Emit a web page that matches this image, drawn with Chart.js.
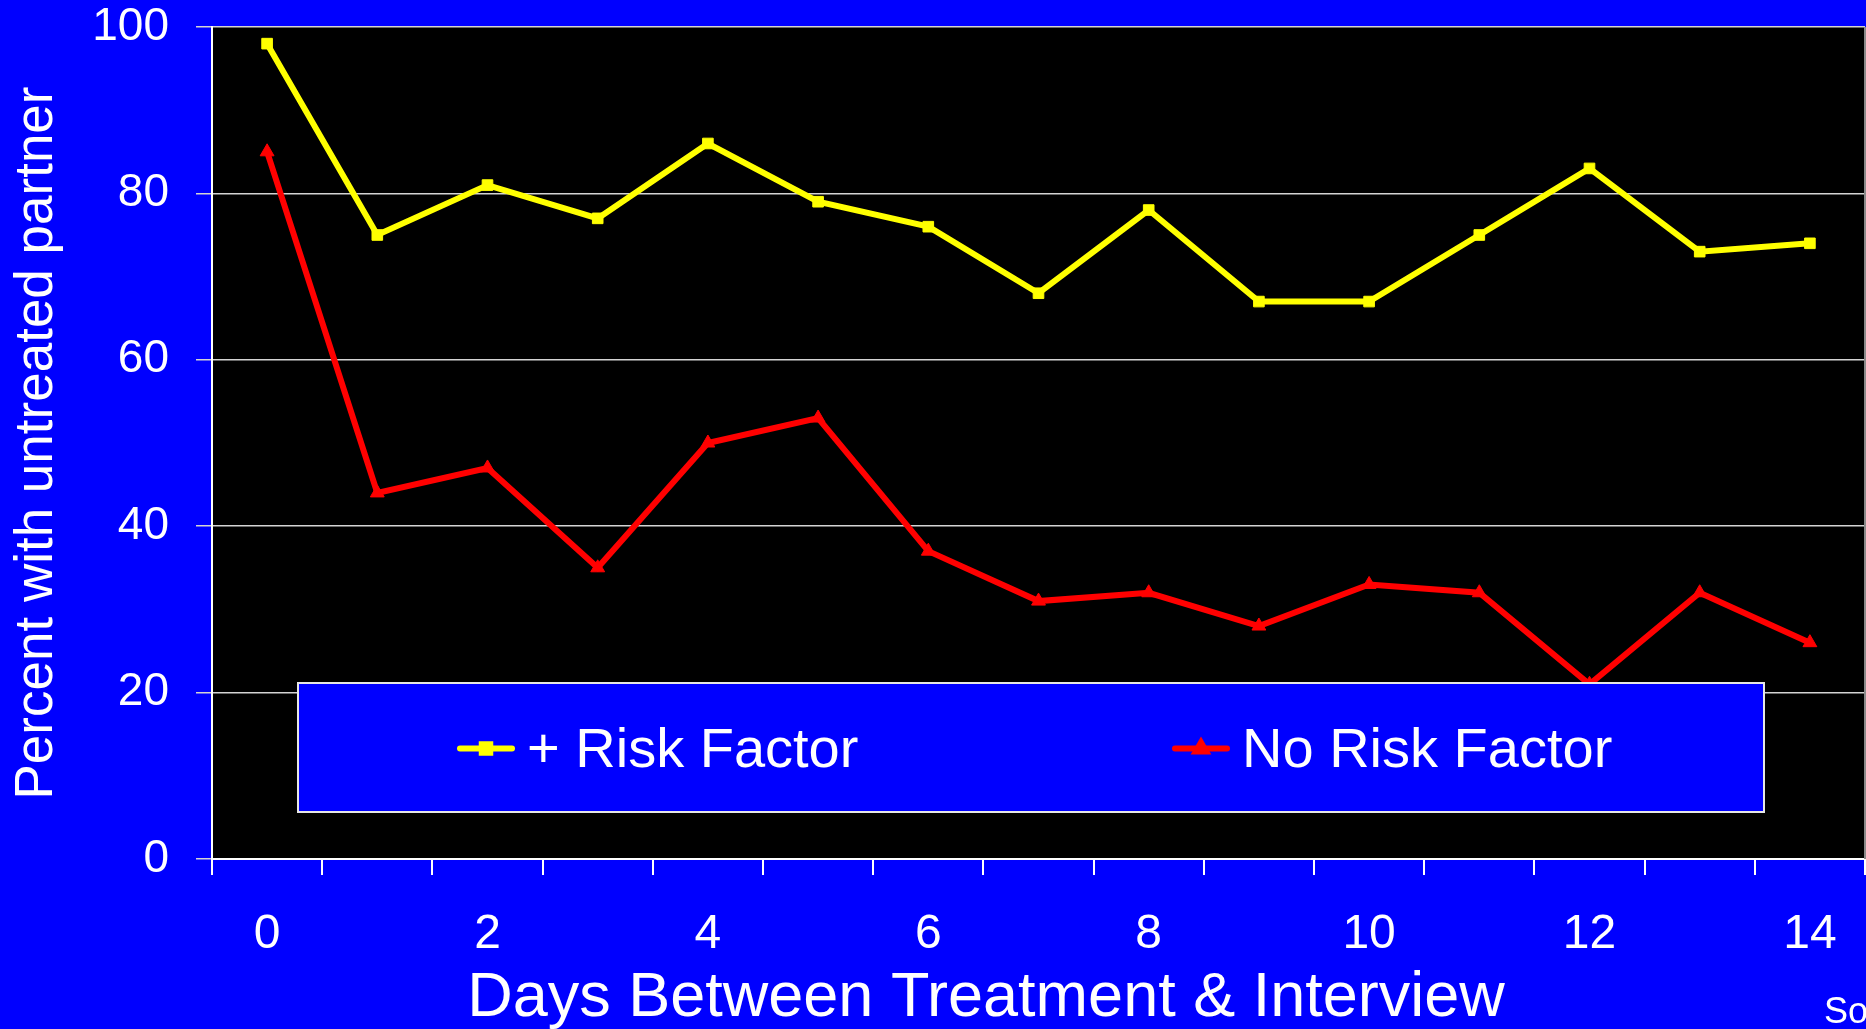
<!DOCTYPE html>
<html>
<head>
<meta charset="utf-8">
<script src="https://cdn.jsdelivr.net/npm/chart.js@4.4.1/dist/chart.umd.min.js"></script>
<style>
  html, body { margin: 0; padding: 0; background: #0000ff; overflow: hidden; }
  canvas { display: block; }
</style>
</head>
<body>
<canvas id="chart" width="1866" height="1029"></canvas>
<script>
// Days between treatment and interview (one category per day)
const days = ['0', '1', '2', '3', '4', '5', '6', '7', '8', '9', '10', '11', '12', '13', '14'];
// Only every second day is labelled on the axis
const xTickLabels = ['0', '2', '4', '6', '8', '10', '12', '14'];
const yTickValues = [0, 20, 40, 60, 80, 100];

// Percent with untreated partner
const withRiskFactor = [98, 75, 81, 77, 86, 79, 76, 68, 78, 67, 67, 75, 83, 73, 74];
const noRiskFactor   = [85, 44, 47, 35, 50, 53, 37, 31, 32, 28, 33, 32, 21, 32, 26];

const seriesNames = ['+ Risk Factor', 'No Risk Factor'];
const xTitle = 'Days Between Treatment & Interview';
const yTitle = 'Percent with untreated partner';
const sourceNote = 'Source:';

const FONT = "'Liberation Sans', Arial, Helvetica, sans-serif";
const BLUE = '#0000ff';
const YELLOW = '#ffff00';
const RED = '#ff0000';
const GRID = '#d4d4d4';

// Fixed axis band sizes around the plotting area
const Y_AXIS_WIDTH = 212;
const X_AXIS_HEIGHT = 170;

// Blue page background with a black plotting area and a grey right edge
const backdrop = {
  id: 'backdrop',
  beforeDraw(chart) {
    const { ctx, chartArea: a, width, height } = chart;
    ctx.save();
    ctx.fillStyle = BLUE;
    ctx.fillRect(0, 0, width, height);
    ctx.fillStyle = '#000000';
    ctx.fillRect(a.left, a.top, a.right - a.left, a.bottom - a.top);
    ctx.restore();
  },
  beforeDatasetsDraw(chart) {
    const { ctx, chartArea: a } = chart;
    ctx.save();
    ctx.strokeStyle = '#8a8a8a';
    ctx.lineWidth = 2;
    ctx.beginPath();
    ctx.moveTo(a.right, a.top);
    ctx.lineTo(a.right, a.bottom);
    ctx.stroke();
    ctx.restore();
  }
};

// Boxed legend over the lower part of the plot, the x-axis title and the source note
const boxedLegend = {
  id: 'boxedLegend',
  afterDatasetsDraw(chart) {
    const { ctx, chartArea: a } = chart;
    const box = { left: a.left + 86, top: 683, right: a.left + 1552, bottom: 812 };
    const cy = (box.top + box.bottom) / 2 + 1;
    ctx.save();
    ctx.fillStyle = BLUE;
    ctx.fillRect(box.left, box.top, box.right - box.left, box.bottom - box.top);
    ctx.strokeStyle = '#e6e6e6';
    ctx.lineWidth = 2;
    ctx.strokeRect(box.left, box.top, box.right - box.left, box.bottom - box.top);

    const items = [
      { ds: chart.data.datasets[0], x0: a.left + 248 },
      { ds: chart.data.datasets[1], x0: a.left + 963 }
    ];
    ctx.font = `56px ${FONT}`;
    ctx.textBaseline = 'middle';
    ctx.textAlign = 'left';
    items.forEach(({ ds, x0 }) => {
      const x1 = x0 + 52;
      ctx.strokeStyle = ds.borderColor;
      ctx.lineWidth = 6;
      ctx.lineCap = 'round';
      ctx.beginPath();
      ctx.moveTo(x0, cy);
      ctx.lineTo(x1, cy);
      ctx.stroke();
      ctx.fillStyle = ds.borderColor;
      ctx.strokeStyle = ds.borderColor;
      Chart.helpers.drawPoint(ctx, { pointStyle: ds.pointStyle, radius: 6, borderWidth: 1, rotation: 0 }, (x0 + x1) / 2, cy);
      ctx.fillStyle = '#ffffff';
      ctx.fillText(ds.label, x1 + 15, cy + 3);
    });
    ctx.restore();
  },
  afterDraw(chart) {
    const { ctx, chartArea: a } = chart;
    ctx.save();
    ctx.fillStyle = '#ffffff';
    // x-axis title, set slightly left of the axis centre
    ctx.font = `63px ${FONT}`;
    ctx.textBaseline = 'middle';
    ctx.textAlign = 'center';
    ctx.fillText(xTitle, a.left + 774, 999);
    // source note running off the right edge
    ctx.font = `36px ${FONT}`;
    ctx.textBaseline = 'alphabetic';
    ctx.textAlign = 'left';
    ctx.fillText(sourceNote, 1824, 1023);
    ctx.restore();
  }
};

new Chart(document.getElementById('chart'), {
  type: 'line',
  data: {
    labels: days,
    datasets: [
      {
        label: seriesNames[0],
        data: withRiskFactor,
        borderColor: YELLOW,
        backgroundColor: YELLOW,
        borderWidth: 6,
        pointStyle: 'rect',
        pointRadius: 7.5,
        pointBackgroundColor: YELLOW,
        pointBorderColor: YELLOW,
        pointBorderWidth: 1,
        tension: 0
      },
      {
        label: seriesNames[1],
        data: noRiskFactor,
        borderColor: RED,
        backgroundColor: RED,
        borderWidth: 6,
        pointStyle: 'triangle',
        pointRadius: 8,
        pointBackgroundColor: RED,
        pointBorderColor: RED,
        pointBorderWidth: 1,
        tension: 0
      }
    ]
  },
  options: {
    responsive: false,
    animation: false,
    devicePixelRatio: 1,
    layout: { autoPadding: false, padding: { left: 0, right: 1, top: 27, bottom: 0 } },
    plugins: {
      legend: { display: false },
      tooltip: { enabled: false }
    },
    scales: {
      x: {
        type: 'category',
        offset: true,
        afterFit(scale) {
          scale.height = X_AXIS_HEIGHT;
          scale.paddingLeft = 0;
          scale.paddingRight = 0;
        },
        grid: {
          offset: true,
          drawOnChartArea: false,
          drawTicks: true,
          tickLength: 16,
          color: '#ffffff',
          lineWidth: 2
        },
        border: { display: true, color: '#ffffff', width: 2 },
        ticks: {
          autoSkip: false,
          maxRotation: 0,
          padding: 31,
          color: '#ffffff',
          font: { family: FONT, size: 48 },
          callback(value, index) {
            const lab = days[index];
            return xTickLabels.includes(lab) ? lab : '';
          }
        },
        title: { display: false, text: xTitle }
      },
      y: {
        min: 0,
        max: 100,
        afterBuildTicks(scale) {
          scale.ticks = yTickValues.map(v => ({ value: v }));
        },
        afterFit(scale) {
          scale.width = Y_AXIS_WIDTH;
          scale.paddingTop = 0;
          scale.paddingBottom = 0;
        },
        grid: {
          drawOnChartArea: true,
          drawTicks: true,
          tickLength: 16,
          color: GRID,
          lineWidth: 1.5
        },
        border: { display: true, color: '#ffffff', width: 2 },
        ticks: {
          padding: 27,
          color: '#ffffff',
          font: { family: FONT, size: 46 }
        },
        title: {
          display: true,
          text: yTitle,
          color: '#ffffff',
          font: { family: FONT, size: 53, lineHeight: 1.2 },
          padding: { top: 6, bottom: 0 }
        }
      }
    }
  },
  plugins: [backdrop, boxedLegend]
});
</script>
</body>
</html>
